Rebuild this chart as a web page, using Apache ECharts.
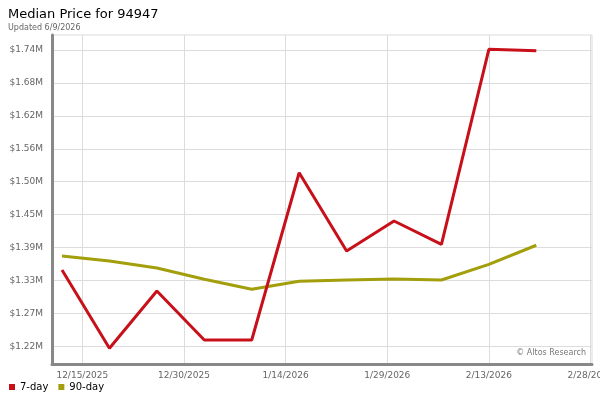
<!DOCTYPE html>
<html>
<head>
<meta charset="utf-8">
<script src="https://cdn.jsdelivr.net/npm/echarts@6/dist/echarts.min.js"></script>
<style>html,body{margin:0;padding:0;background:#fff}#c{width:600px;height:400px}</style>
</head>
<body>
<div id="c"></div>
<script>
// ---- data ----
const dates = ['2025-12-12','2025-12-19','2025-12-26','2026-01-02','2026-01-09','2026-01-16','2026-01-23','2026-01-30','2026-02-06','2026-02-13','2026-02-20'];
const sevenDay = [1349400, 1211800, 1312500, 1226300, 1226300, 1520400, 1382800, 1435500, 1394600, 1737400, 1734900];
const ninetyDay = [1374000, 1365200, 1352900, 1333100, 1315500, 1329600, 1331800, 1333600, 1331800, 1359400, 1392900];
const xTickDates = ['2025-12-15','2025-12-30','2026-01-14','2026-01-29','2026-02-13','2026-02-28'];
const yTickValues = [1215270, 1273140, 1331010, 1388880, 1446750, 1504620, 1562490, 1620360, 1678230, 1736100];
const seriesNames = ['7-day', '90-day'];
const titleText = 'Median Price for 94947';
const subText = 'Updated 6/9/2026';
const watermark = '\u00A9 Altos Research';

// ---- chart ----
const ts = s => { const p = s.split('-').map(Number); return new Date(p[0], p[1]-1, p[2]).getTime(); };
const DAY = 86400000;
const font = 'DejaVu Sans, Verdana, sans-serif';
const chart = echarts.init(document.getElementById('c'), null, {renderer:'canvas'});
chart.setOption({
  animation: false,
  backgroundColor: '#fff',
  textStyle: {fontFamily: font},
  title: {
    text: titleText, subtext: subText, left: 3, top: 3, itemGap: 3,
    textStyle: {fontSize: 13, fontWeight: 'normal', color: '#000', fontFamily: font},
    subtextStyle: {fontSize: 8, color: '#666', fontFamily: font}
  },
  legend: {
    left: 4, top: 377, icon: 'rect', itemWidth: 6, itemHeight: 6, itemGap: 10,
    textStyle: {fontSize: 10, color: '#000', fontFamily: font},
    data: seriesNames
  },
  grid: {left: 52, right: 8, top: 35, bottom: 36, show: true, borderColor: '#dcdcdc', borderWidth: 1,
         containLabel: false, outerBoundsMode: 'none'},
  xAxis: {
    type: 'value',
    min: ts(dates[0]) - 1.48 * DAY,
    max: ts(xTickDates[xTickDates.length-1]) + 0.22 * DAY,
    axisLine: {show: true, lineStyle: {color: '#888', width: 3}},
    axisTick: {show: false, customValues: xTickDates.map(ts)},
    axisLabel: {
      customValues: xTickDates.map(ts),
      color: '#666', fontSize: 9, fontFamily: font, margin: 7, hideOverlap: false,
      formatter: v => { const d = new Date(v); return (d.getMonth()+1) + '/' + d.getDate() + '/' + d.getFullYear(); }
    },
    splitLine: {show: true, lineStyle: {color: '#dcdcdc', width: 1}}
  },
  yAxis: {
    type: 'value',
    min: 1184160, max: 1762510,
    axisLine: {show: true, lineStyle: {color: '#888', width: 3}},
    axisTick: {show: false, customValues: yTickValues},
    axisLabel: {
      customValues: yTickValues,
      color: '#666', fontSize: 9, fontFamily: font, margin: 9,
      formatter: v => '$' + (v/1e6).toFixed(2) + 'M'
    },
    splitLine: {show: true, lineStyle: {color: '#dcdcdc', width: 1}}
  },
  graphic: [{
    type: 'text', right: 14, top: 349,
    style: {text: watermark, fontSize: 8, fill: '#777', fontFamily: font}
  }],
  series: [
    {name: seriesNames[0], type: 'line', data: dates.map((d,i)=>[ts(d), sevenDay[i]]),
     symbol: 'none', lineStyle: {color: '#c8101a', width: 3}, itemStyle: {color: '#c8101a'}},
    {name: seriesNames[1], type: 'line', data: dates.map((d,i)=>[ts(d), ninetyDay[i]]),
     symbol: 'none', lineStyle: {color: '#a39e0b', width: 3}, itemStyle: {color: '#a39e0b'}, z: 1}
  ]
});
</script>
</body>
</html>
